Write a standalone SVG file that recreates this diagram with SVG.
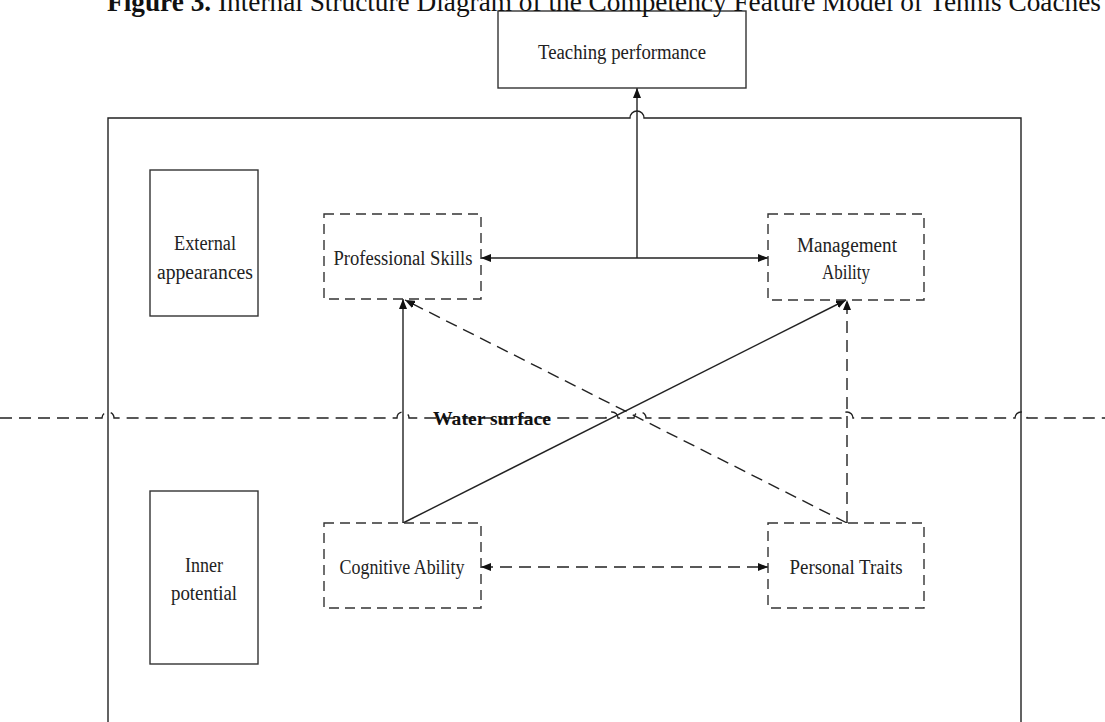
<svg xmlns="http://www.w3.org/2000/svg" width="1105" height="722" viewBox="0 0 1105 722">
<defs>
<style>
.t{font-family:"Liberation Serif","Times New Roman",serif;font-size:20px;fill:#222;text-anchor:middle}
.box{fill:#fff;stroke:#333;stroke-width:1.4}
.dbox{fill:#fff;stroke:#333;stroke-width:1.4;stroke-dasharray:10 6}
.ln{fill:none;stroke:#222;stroke-width:1.4}
.dl{fill:none;stroke:#222;stroke-width:1.4;stroke-dasharray:12 7}
</style>
<marker id="ah" viewBox="0 0 10 8" refX="10" refY="4" markerWidth="10" markerHeight="8" markerUnits="userSpaceOnUse" orient="auto-start-reverse">
<path d="M0,0 L10,4 L0,8 Z" fill="#111"/>
</marker>
</defs>
<rect width="1105" height="722" fill="#fff"/>

<g id="frame">
<path class="ln" d="M108,722 V118 H630 a7,7 0 0 1 14,0 H1021 V722"/>
</g>

<g id="connectors">
<line class="ln" x1="481" y1="258" x2="768" y2="258" marker-start="url(#ah)" marker-end="url(#ah)"/>
<line class="ln" x1="637" y1="258" x2="637" y2="88" marker-end="url(#ah)"/>
<line class="ln" x1="403" y1="523" x2="403" y2="299" marker-end="url(#ah)"/>
<line class="ln" x1="403" y1="523" x2="846" y2="300" marker-end="url(#ah)"/>
<line class="dl" x1="847" y1="523" x2="405" y2="300" marker-end="url(#ah)"/>
<line class="dl" x1="847" y1="523" x2="847" y2="300" marker-end="url(#ah)"/>
<line class="dl" x1="481" y1="567" x2="768" y2="567" marker-start="url(#ah)" marker-end="url(#ah)"/>
</g>

<g id="water">
<path class="dl" d="M0,418 H102 a6,6 0 0 1 12,0 H397 a6,6 0 0 1 12,0 H606 a6,6 0 0 1 12,0 H634 a6,6 0 0 1 12,0 H841 a6,6 0 0 1 12,0 H1015 a6,6 0 0 1 12,0 H1105"/>
<text x="492" y="425" font-family="'Liberation Serif','Times New Roman',serif" font-size="19" font-weight="bold" fill="#111" text-anchor="middle" textLength="118" lengthAdjust="spacingAndGlyphs">Water surface</text>
</g>

<g id="teaching">
<rect class="box" x="498" y="11" width="248" height="77"/>
<text class="t" x="622" y="59" font-size="22" textLength="168" lengthAdjust="spacingAndGlyphs">Teaching performance</text>
</g>

<g id="external">
<rect class="box" x="150" y="170" width="108" height="146"/>
<text class="t" x="205" y="250" textLength="62" lengthAdjust="spacingAndGlyphs">External</text>
<text class="t" x="205" y="279" textLength="96" lengthAdjust="spacingAndGlyphs">appearances</text>
</g>

<g id="inner">
<rect class="box" x="150" y="491" width="108" height="173"/>
<text class="t" x="204" y="572" textLength="38" lengthAdjust="spacingAndGlyphs">Inner</text>
<text class="t" x="204" y="600" textLength="66" lengthAdjust="spacingAndGlyphs">potential</text>
</g>

<g id="professional">
<rect class="dbox" x="324" y="214" width="157" height="85"/>
<text class="t" x="403" y="265" textLength="139" lengthAdjust="spacingAndGlyphs">Professional Skills</text>
</g>

<g id="management">
<rect class="dbox" x="768" y="214" width="156" height="86"/>
<text class="t" x="847" y="252" textLength="100" lengthAdjust="spacingAndGlyphs">Management</text>
<text class="t" x="846" y="279" textLength="48" lengthAdjust="spacingAndGlyphs">Ability</text>
</g>

<g id="cognitive">
<rect class="dbox" x="324" y="523" width="157" height="85"/>
<text class="t" x="402" y="574" textLength="125" lengthAdjust="spacingAndGlyphs">Cognitive Ability</text>
</g>

<g id="personal">
<rect class="dbox" x="768" y="523" width="156" height="85"/>
<text class="t" x="846" y="574" textLength="113" lengthAdjust="spacingAndGlyphs">Personal Traits</text>
</g>

<text x="107" y="11" font-family="'Liberation Serif','Times New Roman',serif" font-size="27.3" fill="#111"><tspan font-weight="bold">Figure 3</tspan><tspan font-weight="bold">.</tspan> Internal Structure Diagram of the Competency Feature Model of Tennis Coaches</text>
</svg>
